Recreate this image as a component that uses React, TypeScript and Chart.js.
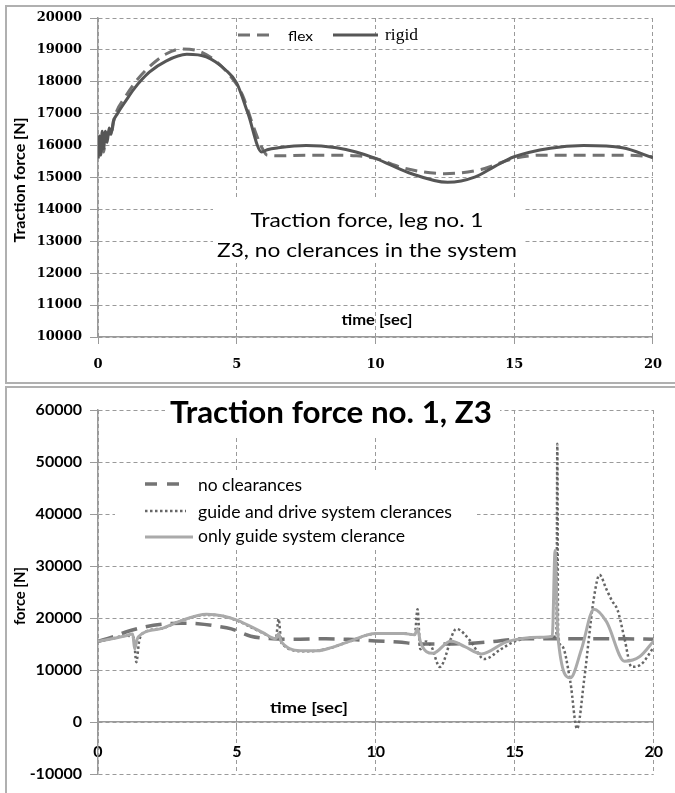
import React, { useEffect, useRef } from "react";
import { Chart, registerables } from "chart.js";

Chart.register(...registerables);

// ---------------- Top chart data: Traction force, leg no. 1 ----------------
const topXMin = 0;
const topXMax = 20;
const topXStep = 5;
const topYMin = 10000;
const topYMax = 20000;
const topYStep = 1000;

const flexTime = [0, 0.1, 0.2, 0.3, 0.45, 0.6, 1.0, 1.4, 1.85, 2.45, 3.0, 3.6, 4.2, 4.8, 5.2, 5.6, 5.9, 6.1, 6.5, 7.5, 8.5, 9.3, 10.0, 11.0, 12.5, 13.8, 15.0, 16.0, 17.5, 19.0, 20];
const flexForce = [15600, 16100, 15800, 16400, 16300, 16900, 17550, 18050, 18470, 18870, 19030, 18970, 18680, 18150, 17600, 16600, 15950, 15700, 15680, 15700, 15700, 15680, 15600, 15300, 15120, 15250, 15600, 15700, 15700, 15700, 15650];

const rigidTime = [0, 0.05, 0.1, 0.15, 0.2, 0.27, 0.33, 0.4, 0.47, 0.55, 0.7, 1.0, 1.3, 1.85, 2.45, 3.2, 3.9, 4.6, 5.0, 5.4, 5.9, 6.1, 6.5, 7.5, 8.6, 9.3, 10.0, 11.2, 12.6, 13.6, 14.3, 15.0, 16.3, 17.5, 18.9, 20];
const rigidForce = [15600, 16300, 15700, 16450, 15900, 16450, 16100, 16550, 16350, 16750, 17000, 17400, 17780, 18300, 18650, 18860, 18780, 18370, 17960, 17020, 15800, 15870, 15930, 16000, 15930, 15800, 15600, 15150, 14850, 15020, 15350, 15650, 15920, 16000, 15930, 15620];

const topLegend = ["flex", "rigid"];
const topNote = ["Traction force, leg no. 1", "Z3, no clerances in the system"];
const topYTitle = "Traction force [N]";
const topXTitle = "time [sec]";

// ---------------- Bottom chart data: Traction force no. 1, Z3 ----------------
const botXMin = 0;
const botXMax = 20;
const botXStep = 5;
const botYMin = -10000;
const botYMax = 60000;
const botYStep = 10000;

const noClrTime = [0, 0.5, 1.0, 1.7, 2.3, 3.0, 3.6, 4.2, 4.8, 5.5, 6.3, 7.0, 8.2, 9.0, 10.0, 10.8, 11.6, 12.5, 13.3, 14.1, 15.3, 16.0, 17.0, 18.0, 19.0, 20];
const noClrForce = [15500, 16300, 17300, 18300, 18800, 19000, 18900, 18500, 17900, 16500, 16000, 15900, 16000, 15900, 15600, 15400, 15000, 15000, 15100, 15400, 16000, 16000, 16000, 16000, 16000, 15900];

const guideDriveTime = [0, 0.5, 1.0, 1.28, 1.38, 1.48, 1.6, 2.3, 3.0, 3.9, 4.5, 5.0, 5.9, 6.4, 6.5, 6.6, 7.4, 7.9, 8.4, 9.0, 10.0, 11.0, 11.4, 11.5, 11.6, 11.8, 12.0, 12.3, 12.9, 13.4, 13.9, 14.5, 15.0, 16.0, 16.5, 16.53, 16.56, 16.7, 17.0, 17.24, 17.5, 17.84, 18.05, 18.3, 18.5, 18.7, 18.95, 19.2, 19.55, 20];
const guideDriveForce = [15500, 16000, 16600, 16300, 11500, 15500, 17000, 18000, 19500, 20600, 20400, 19500, 17200, 16000, 19800, 15200, 13600, 13700, 14300, 15400, 17000, 17000, 16800, 21700, 14000, 15500, 14500, 10600, 17900, 15600, 12100, 14000, 15500, 16300, 16500, 53500, 16800, 14600, 7700, -1300, 8300, 23600, 28300, 25500, 23300, 21500, 16000, 10600, 11100, 14400];

const onlyGuideTime = [0, 0.5, 1.0, 1.25, 1.32, 1.4, 1.6, 2.3, 3.0, 3.9, 4.5, 5.0, 5.9, 6.4, 6.5, 6.6, 7.4, 7.9, 8.4, 9.0, 10.0, 11.0, 11.4, 11.5, 11.6, 12.05, 12.7, 13.2, 13.8, 14.7, 15.9, 16.35, 16.45, 16.55, 17.0, 17.4, 17.85, 18.3, 18.95, 19.5, 20];
const onlyGuideForce = [15500, 16000, 16600, 16900, 14000, 15800, 17000, 18000, 19500, 20700, 20400, 19600, 17300, 16000, 17000, 15400, 13700, 13700, 14300, 15400, 17000, 17000, 16800, 18000, 15500, 13200, 15600, 14500, 13100, 15400, 16300, 16500, 33000, 16500, 8500, 14000, 21700, 19300, 11700, 12600, 15600];

const botLegend = ["no clearances", "guide and drive system clerances", "only guide system clerance"];
const botTitle = "Traction force no. 1, Z3";
const botYTitle = "force [N]";
const botXTitle = "time [sec]";

// ---------------- helpers ----------------
const pts = (t: number[], v: number[]) => t.map((x, i) => ({ x, y: v[i] }));

function fitText(
  ctx: CanvasRenderingContext2D,
  text: string,
  x: number,
  y: number,
  font: string,
  width: number,
  align: CanvasTextAlign = "center",
  rotate = false
) {
  ctx.save();
  ctx.font = font;
  ctx.fillStyle = "#000";
  ctx.textBaseline = "alphabetic";
  ctx.textAlign = align;
  const w = ctx.measureText(text).width || 1;
  ctx.translate(x, y);
  if (rotate) ctx.rotate(-Math.PI / 2);
  ctx.scale(width / w, 1);
  ctx.fillText(text, 0, 0);
  ctx.restore();
}

function sample(
  ctx: CanvasRenderingContext2D,
  x1: number,
  x2: number,
  y: number,
  color: string,
  width: number,
  dash: number[]
) {
  ctx.save();
  ctx.strokeStyle = color;
  ctx.lineWidth = width;
  ctx.setLineDash(dash);
  ctx.beginPath();
  ctx.moveTo(x1, y);
  ctx.lineTo(x2, y);
  ctx.stroke();
  ctx.restore();
}

const FLEX_COLOR = "#727272";
const RIGID_COLOR = "#565656";
const NOCLR_COLOR = "#747474";
const GD_COLOR = "#666666";
const OG_COLOR = "#aaaaaa";
const GRID_COLOR = "#9a9a9a";
const AXIS_COLOR = "#9a9a9a";

const topDecor = {
  id: "topDecor",
  beforeDatasetsDraw(chart: any) {
    const ctx: CanvasRenderingContext2D = chart.ctx;
    ctx.save();
    ctx.fillStyle = "#fff";
    ctx.fillRect(213, 200, 312, 62);
    ctx.restore();
    fitText(ctx, topNote[0], 367, 227, "20px Lato", 233);
    fitText(ctx, topNote[1], 367, 257, "20px Lato", 300);
    fitText(ctx, topXTitle, 377, 325, "bold 15px Lato", 71);
    fitText(ctx, topYTitle, 25, 180, "bold 15px Lato", 125, "center", true);
    sample(ctx, 238, 270, 35, FLEX_COLOR, 3, [12, 7]);
    fitText(ctx, topLegend[0], 288, 41, "14px Lato", 25, "left");
    sample(ctx, 333, 378, 35, RIGID_COLOR, 3, []);
    fitText(ctx, topLegend[1], 385, 40, "17px 'Liberation Serif'", 33, "left");
  },
};

const botDecor = {
  id: "botDecor",
  beforeDatasetsDraw(chart: any) {
    const ctx: CanvasRenderingContext2D = chart.ctx;
    ctx.save();
    ctx.fillStyle = "#fff";
    ctx.fillRect(165, 6, 335, 42);
    ctx.fillRect(115, 83, 362, 80);
    ctx.restore();
    fitText(ctx, botTitle, 331, 36, "bold 30px Lato", 322);
    sample(ctx, 145, 180, 97, NOCLR_COLOR, 3.5, [12, 10]);
    fitText(ctx, botLegend[0], 198, 104, "17px Lato", 104, "left");
    sample(ctx, 145, 186, 124, GD_COLOR, 2.5, [2.5, 2.5]);
    fitText(ctx, botLegend[1], 198, 131, "17px Lato", 254, "left");
    sample(ctx, 145, 193, 150, OG_COLOR, 3, []);
    fitText(ctx, botLegend[2], 198, 155, "17px Lato", 207, "left");
    fitText(ctx, botXTitle, 309, 326, "bold 16px Lato", 78);
    fitText(ctx, botYTitle, 25, 209, "bold 15px Lato", 58, "center", true);
  },
};

const plain = (v: any) => String(v);

export default function App() {
  const topRef = useRef<HTMLCanvasElement>(null);
  const botRef = useRef<HTMLCanvasElement>(null);

  useEffect(() => {
    const topFont = { family: "'DejaVu Serif'", size: 13, weight: "bold" as const };
    const botFont = { family: "Lato", size: 16, weight: "bold" as const };

    const c1 = new Chart(topRef.current as HTMLCanvasElement, {
      type: "line",
      data: {
        datasets: [
          {
            label: topLegend[1],
            data: pts(rigidTime, rigidForce),
            borderColor: RIGID_COLOR,
            borderWidth: 3,
            pointRadius: 0,
            cubicInterpolationMode: "monotone",
            fill: false,
          },
          {
            label: topLegend[0],
            data: pts(flexTime, flexForce),
            borderColor: FLEX_COLOR,
            borderWidth: 3,
            borderDash: [12, 7],
            pointRadius: 0,
            cubicInterpolationMode: "monotone",
            fill: false,
          },
        ],
      },
      options: {
        animation: false,
        responsive: false,
        events: [],
        layout: { padding: { top: 18, right: 15, left: 0, bottom: 0 } },
        plugins: { legend: { display: false }, tooltip: { enabled: false } },
        scales: {
          x: {
            type: "linear",
            min: topXMin,
            max: topXMax,
            ticks: { stepSize: topXStep, color: "#000", font: topFont, padding: 13, maxRotation: 0, callback: plain },
            grid: { color: GRID_COLOR, lineWidth: 1, tickLength: 7, tickColor: AXIS_COLOR },
            border: { display: true, color: AXIS_COLOR, width: 1.5, dash: [4, 3] },
            afterFit: (s: any) => {
              s.height = 48;
            },
          },
          y: {
            type: "linear",
            min: topYMin,
            max: topYMax,
            ticks: { stepSize: topYStep, color: "#000", font: topFont, padding: 8, callback: plain },
            grid: { color: GRID_COLOR, lineWidth: 1, tickLength: 8, tickColor: AXIS_COLOR },
            border: { display: true, color: AXIS_COLOR, width: 1.5, dash: [4, 3] },
            afterFit: (s: any) => {
              s.width = 98;
            },
          },
        },
      } as any,
      plugins: [topDecor],
    });

    const c2 = new Chart(botRef.current as HTMLCanvasElement, {
      type: "line",
      data: {
        datasets: [
          {
            label: botLegend[2],
            data: pts(onlyGuideTime, onlyGuideForce),
            borderColor: OG_COLOR,
            borderWidth: 3,
            pointRadius: 0,
            cubicInterpolationMode: "monotone",
            fill: false,
          },
          {
            label: botLegend[1],
            data: pts(guideDriveTime, guideDriveForce),
            borderColor: GD_COLOR,
            borderWidth: 2.5,
            borderDash: [2.5, 2.5],
            pointRadius: 0,
            cubicInterpolationMode: "monotone",
            fill: false,
          },
          {
            label: botLegend[0],
            data: pts(noClrTime, noClrForce),
            borderColor: NOCLR_COLOR,
            borderWidth: 3.5,
            borderDash: [16, 9],
            pointRadius: 0,
            cubicInterpolationMode: "monotone",
            fill: false,
          },
        ],
      },
      options: {
        animation: false,
        responsive: false,
        events: [],
        layout: { padding: { top: 23, right: 12, left: 0, bottom: 19 } },
        plugins: { legend: { display: false }, tooltip: { enabled: false } },
        scales: {
          x: {
            type: "linear",
            axis: "x",
            position: { y: 0 },
            min: botXMin,
            max: botXMax,
            ticks: { stepSize: botXStep, color: "#000", font: botFont, padding: 12, maxRotation: 0, callback: plain },
            grid: { color: GRID_COLOR, lineWidth: 1, tickLength: 8, tickColor: AXIS_COLOR },
            border: { display: true, color: AXIS_COLOR, width: 1.5, dash: [4, 3] },
          },
          y: {
            type: "linear",
            min: botYMin,
            max: botYMax,
            ticks: { stepSize: botYStep, color: "#000", font: botFont, padding: 8, callback: plain },
            grid: { color: GRID_COLOR, lineWidth: 1, tickLength: 8, tickColor: AXIS_COLOR },
            border: { display: true, color: AXIS_COLOR, width: 1.5, dash: [4, 3] },
            afterFit: (s: any) => {
              s.width = 98;
            },
          },
        },
      } as any,
      plugins: [botDecor],
    });

    return () => {
      c1.destroy();
      c2.destroy();
    };
  }, []);

  return (
    <div
      style={{
        position: "absolute",
        left: 0,
        top: 0,
        width: 675,
        height: 793,
        overflow: "hidden",
        background: "#fff",
      }}
    >
      <div
        style={{
          position: "absolute",
          left: 5,
          top: 5,
          width: 700,
          height: 375,
          border: "2px solid #b0b0b0",
        }}
      />
      <div
        style={{
          position: "absolute",
          left: 5,
          top: 386,
          width: 700,
          height: 500,
          border: "2px solid #b0b0b0",
        }}
      />
      <canvas
        ref={topRef}
        width={675}
        height={385}
        style={{ position: "absolute", left: 0, top: 0, width: 675, height: 385 }}
      />
      <canvas
        ref={botRef}
        width={675}
        height={406}
        style={{ position: "absolute", left: 0, top: 387, width: 675, height: 406 }}
      />
    </div>
  );
}
